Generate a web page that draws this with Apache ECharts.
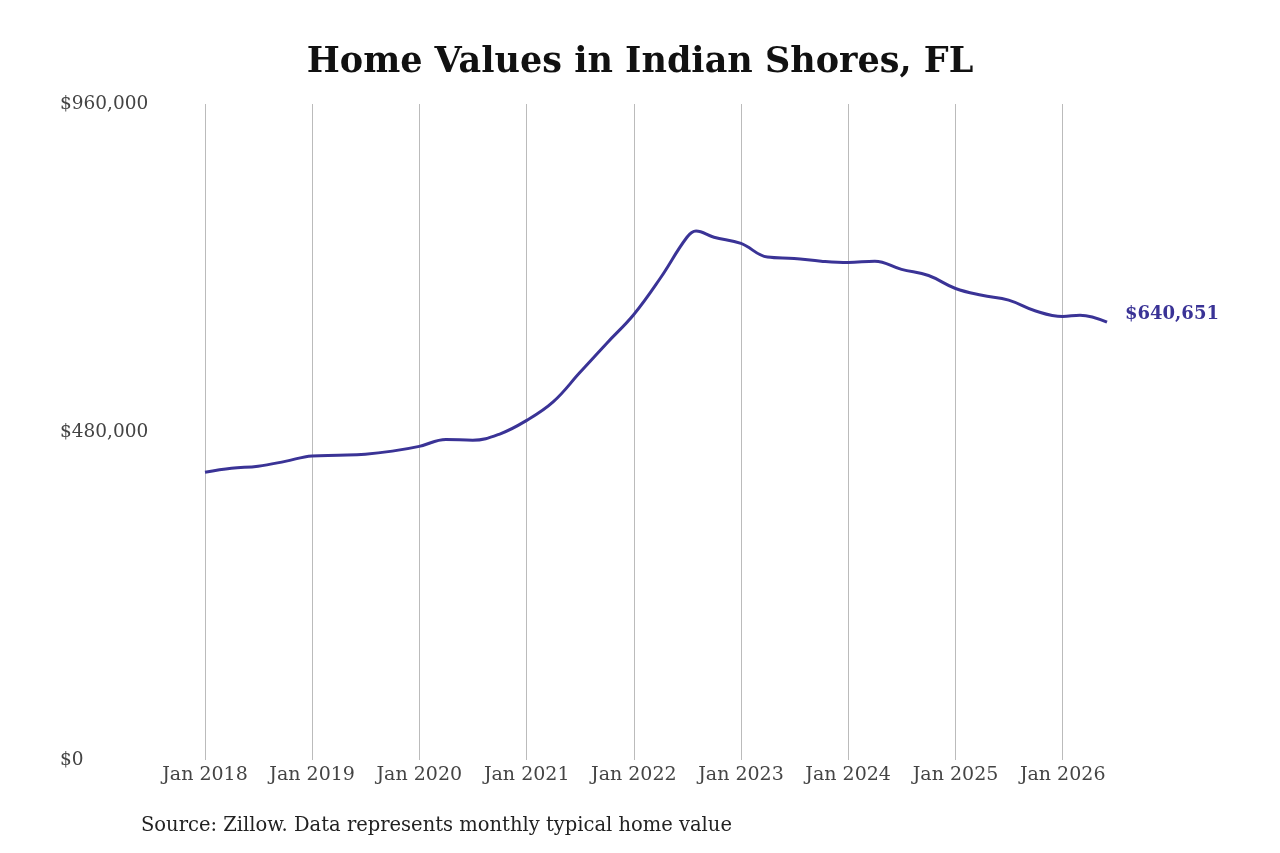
<!DOCTYPE html>
<html>
<head>
  <meta charset="utf-8">
  <title>Home Values in Indian Shores, FL</title>
  <script src="https://cdn.jsdelivr.net/npm/echarts@6/dist/echarts.min.js"></script>
  <style>body{margin:0;background:#fff}</style>
</head>
<body>
  <div id="main" style="width:1280px;height:853px;"></div>
  <script type="text/javascript">
    // values
    var dates = ['2018-01','2018-04','2018-07','2018-10','2019-01','2019-04','2019-07','2019-10',
      '2020-01','2020-04','2020-07','2020-10','2021-01','2021-04','2021-07','2021-10',
      '2022-01','2022-04','2022-07','2022-08','2022-10','2023-01','2023-04','2023-07','2023-10',
      '2024-01','2024-04','2024-07','2024-10','2025-01','2025-04','2025-07','2025-10',
      '2026-01','2026-03','2026-06'];
    var values = [421200,427000,430000,437000,445000,446000,447500,452000,
      459000,469000,468000,477000,497000,524000,567000,610000,
      652000,705000,765000,774000,765000,756000,736000,734000,730000,
      728000,730000,718000,709000,690000,680000,673000,657000,
      649000,651000,640651];

    var font = 'DejaVu Serif';
    var myChart = echarts.init(document.getElementById('main'));
    var yearMs = 365.25 * 86400000;

    var option = {
      backgroundColor: '#fff',
      textStyle: { fontFamily: font },
      title: {
        left: 'center', top: 40,
        text: 'Home Values in Indian Shores, FL',
        textStyle: { fontFamily: font, fontSize: 35, fontWeight: 'bold', color: '#111' }
      },
      graphic: [{
        type: 'text', left: 141, top: 816,
        style: { text: 'Source: Zillow. Data represents monthly typical home value', font: '19.5px "DejaVu Serif"', fill: '#222' }
      }],
      grid: { left: 205, right: 173, top: 104, bottom: 93 },
      xAxis: {
        type: 'time',
        min: +new Date('2018-01-01'),
        max: +new Date('2026-06-01'),
        minInterval: yearMs, maxInterval: yearMs,
        axisLine: { show: false },
        axisTick: { show: false },
        splitLine: { show: true, showMaxLine: false, lineStyle: { color: '#bbb', width: 1 } },
        axisLabel: {
          fontFamily: font, fontSize: 19, color: '#444', margin: 6,
          showMaxLabel: false,
          formatter: function (v) { return 'Jan ' + new Date(v).getFullYear(); }
        }
      },
      yAxis: {
        type: 'value', min: 0, max: 960000, interval: 480000,
        axisLine: { show: false }, axisTick: { show: false },
        splitLine: { show: false },
        axisLabel: {
          fontFamily: font, fontSize: 18.5, color: '#444', margin: 145,
          align: 'left', verticalAlign: 'middle',
          formatter: function (v) { return '$' + v.toLocaleString('en-US'); }
        }
      },
      series: [{
        type: 'line', smooth: 0.4, symbol: 'none',
        data: dates.map(function (d, i) { return [d + '-01', values[i]]; }),
        lineStyle: { color: '#3a3396', width: 3 },
        endLabel: {
          show: true, distance: 18, offset: [0, -8],
          formatter: function (p) { return '$' + p.value[1].toLocaleString('en-US'); },
          fontFamily: font, fontSize: 18, fontWeight: 'bold', color: '#3a3396'
        }
      }]
    };
    myChart.setOption(option);
  </script>
</body>
</html>
